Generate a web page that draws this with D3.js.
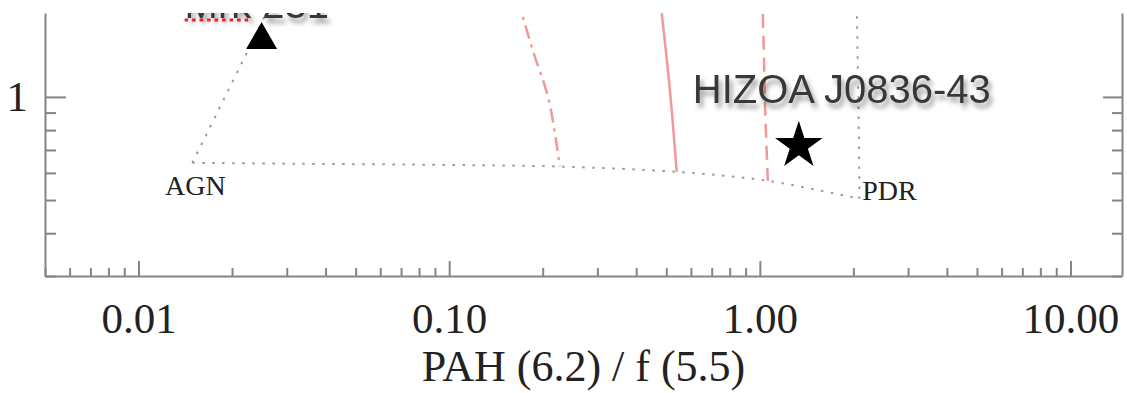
<!DOCTYPE html>
<meta charset="utf-8">
<style>
body { margin: 0; background: #fff; }
.axis path, .axis line { stroke: #858585; stroke-width: 2; }
.axis text { font-family: "Liberation Serif", "Times New Roman", serif; font-size: 43px; fill: #222; }
.mix { fill: none; stroke: #9a9a9a; stroke-width: 2; stroke-dasharray: 2.5,7.5; }
.frac { fill: none; stroke: #f29898; stroke-width: 2.5; }
.corner { font-family: "Liberation Serif", "Times New Roman", serif; font-size: 28px; fill: #222; }
.src { font-family: "Liberation Sans", Arial, sans-serif; font-size: 40px; fill: #383838; }
</style>
<svg width="1127" height="393"></svg>
<script src="https://cdn.jsdelivr.net/npm/d3@7"></script>
<script>

// axis ticks
var xMajor = [0.01, 0.1, 1, 10];
var xTicks = [0.005, 0.006, 0.007, 0.008, 0.009, 0.01, 0.02, 0.03, 0.04, 0.05, 0.06, 0.07, 0.08, 0.09,
              0.1, 0.2, 0.3, 0.4, 0.5, 0.6, 0.7, 0.8, 0.9, 1, 2, 3, 4, 5, 6, 7, 8, 9, 10];
var yMajor = [1];
var yTicks = [0.3, 0.4, 0.5, 0.6, 0.7, 0.8, 0.9, 1];

// mixing lines between the corners (AGN, PDR, HII off the top)
var agnPdrX = [0.0149, 0.0330, 0.1004, 0.227, 0.540, 1.061, 2.09];
var agnPdrY = [0.642, 0.638, 0.633, 0.626, 0.604, 0.569, 0.504];
var agnHiiX = [0.0149, 0.0228, 0.0301];
var agnHiiY = [0.642, 1.40, 2.35];
var pdrHiiX = [2.09, 2.09, 2.054, 2.04];
var pdrHiiY = [0.504, 0.59, 1.734, 2.35];

// fraction curves (red)
var fracDashDotX = [0.1555, 0.1712, 0.1857, 0.2092, 0.227];
var fracDashDotY = [2.35, 1.758, 1.371, 0.980, 0.626];
var fracSolidX = [0.470, 0.4834, 0.498, 0.517, 0.540];
var fracSolidY = [2.35, 1.758, 1.371, 0.980, 0.604];
var fracDashedX = [1.015, 1.022, 1.03, 1.038, 1.061];
var fracDashedY = [2.35, 1.758, 1.371, 0.980, 0.569];

// sources
var srcNames = ["Mrk 231", "HIZOA J0836-43"];
var srcX = [0.0249, 1.335];
var srcY = [1.466, 0.720];

var svg = d3.select("svg");

var x = d3.scaleLog().domain([0.005, 14.65]).range([45, 1122]);
var y = d3.scaleLog().domain([0.3, 1.758]).range([276, 13]);

var fmt = d3.format(".2f");

var defs = svg.append("defs");
defs.append("clipPath").attr("id", "plot")
  .append("rect")
    .attr("x", x.range()[0]).attr("y", y.range()[1])
    .attr("width", x.range()[1] - x.range()[0])
    .attr("height", y.range()[0] - y.range()[1]);
defs.append("filter").attr("id", "shadow")
    .attr("x", "-10%").attr("y", "-30%").attr("width", "120%").attr("height", "170%")
  .append("feDropShadow")
    .attr("dx", 3).attr("dy", 5).attr("stdDeviation", 2.5)
    .attr("flood-color", "#000").attr("flood-opacity", 0.4);

var zip = function(xs, ys) { return xs.map(function(v, i) { return [v, ys[i]]; }); };

var line = d3.line()
    .x(function(d) { return x(d[0]); })
    .y(function(d) { return y(d[1]); })
    .curve(d3.curveCatmullRom);

var plot = svg.append("g").attr("clip-path", "url(#plot)");

plot.selectAll(".mix")
  .data([zip(agnPdrX, agnPdrY), zip(agnHiiX, agnHiiY), zip(pdrHiiX, pdrHiiY)])
  .enter().append("path")
    .attr("class", "mix")
    .attr("d", line);

plot.append("path").attr("class", "frac")
    .attr("d", line(zip(fracDashDotX, fracDashDotY)))
    .attr("stroke-dasharray", "14,6,3,6");
plot.append("path").attr("class", "frac")
    .attr("d", line(zip(fracSolidX, fracSolidY)));
plot.append("path").attr("class", "frac")
    .attr("d", line(zip(fracDashedX, fracDashedY)))
    .attr("stroke-dasharray", "14,8");

// corner labels
svg.append("text").attr("class", "corner")
    .attr("x", x(agnPdrX[0]) + 3).attr("y", y(agnPdrY[0]) + 32)
    .attr("text-anchor", "middle")
    .text("AGN");
svg.append("text").attr("class", "corner")
    .attr("x", x(agnPdrX[agnPdrX.length - 1]) + 3).attr("y", y(agnPdrY[agnPdrY.length - 1]) + 1)
    .text("PDR");

// source markers
var syms = [d3.symbolTriangle, d3.symbolStar];
var sizes = [416, 700];
plot.selectAll(".pt")
  .data(srcNames)
  .enter().append("path")
    .attr("class", "pt")
    .attr("transform", function(d, i) { return "translate(" + x(srcX[i]) + "," + y(srcY[i]) + ")"; })
    .attr("d", function(d, i) { return d3.symbol().type(syms[i]).size(sizes[i])(); })
    .attr("fill", "#000");

var offs = [[-77, -22], [-106, -43]];
var labels = plot.selectAll(".src")
  .data(srcNames)
  .enter().append("text")
    .attr("class", "src")
    .attr("filter", "url(#shadow)")
    .attr("x", function(d, i) { return x(srcX[i]) + offs[i][0]; })
    .attr("y", function(d, i) { return y(srcY[i]) + offs[i][1]; })
    .text(function(d) { return d; });

// spell-check squiggle under "Mrk"
var mrk = labels.filter(function(d, i) { return i === 0; });
var mx = +mrk.attr("x"), my = +mrk.attr("y");
var mw = mrk.node().getSubStringLength(0, 3);
plot.append("line")
    .attr("x1", mx).attr("x2", mx + mw)
    .attr("y1", my + 2).attr("y2", my + 2)
    .attr("stroke", "#e8262a").attr("stroke-width", 3)
    .attr("stroke-dasharray", "3.5,4");

// axes
var xAxis = svg.append("g")
    .attr("class", "axis")
    .attr("transform", "translate(0," + y.range()[0] + ")")
    .call(d3.axisBottom(x).tickValues(xTicks).tickSizeInner(-8).tickSizeOuter(0).tickPadding(26)
      .tickFormat(function(d) { return xMajor.indexOf(d) >= 0 ? fmt(d) : ""; }));
xAxis.selectAll(".tick").filter(function(d) { return xMajor.indexOf(d) >= 0; })
  .select("line").attr("y2", -15);

var yAxis = svg.append("g")
    .attr("class", "axis")
    .attr("transform", "translate(" + x.range()[0] + ",0)")
    .call(d3.axisLeft(y).tickValues(yTicks).tickSizeInner(-11).tickSizeOuter(0).tickPadding(17)
      .tickFormat(function(d) { return yMajor.indexOf(d) >= 0 ? d : ""; }));
yAxis.selectAll(".tick").filter(function(d) { return yMajor.indexOf(d) >= 0; })
  .select("line").attr("x2", 21);

var yAxisR = svg.append("g")
    .attr("class", "axis")
    .attr("transform", "translate(" + x.range()[1] + ",0)")
    .call(d3.axisRight(y).tickValues(yTicks).tickSizeInner(-10).tickSizeOuter(0)
      .tickFormat(""));
yAxisR.selectAll(".tick").filter(function(d) { return yMajor.indexOf(d) >= 0; })
  .select("line").attr("x2", -19);

svg.append("text")
    .attr("x", (x.range()[0] + x.range()[1]) / 2 + 0)
    .attr("y", 381)
    .attr("text-anchor", "middle")
    .attr("font-family", "Liberation Serif, Times New Roman, serif")
    .attr("font-size", 44)
    .attr("fill", "#222")
    .text("PAH (6.2) / f (5.5)");

</script>
